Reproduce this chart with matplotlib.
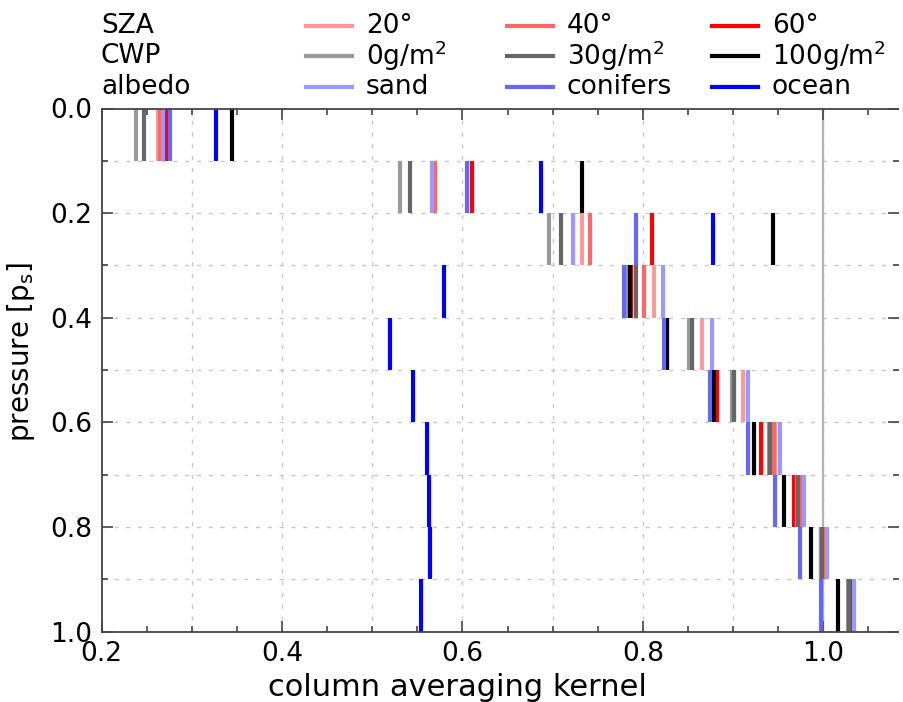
"""
column averaging kernel per pressure layer, for different SZA / CWP / albedo
"""

import numpy as np
import matplotlib
matplotlib.use("Agg")
import matplotlib.pyplot as plt
from matplotlib.lines import Line2D
from matplotlib.ticker import MultipleLocator, FormatStrFormatter

plt.rcParams['font.family'] = ['DejaVu Sans']

# --- Data: pressure layers (fraction of surface pressure) ---
layer_top = [0.0, 0.1, 0.2, 0.3, 0.4, 0.5, 0.6, 0.7, 0.8, 0.9]
layer_bot = [0.1, 0.2, 0.3, 0.4, 0.5, 0.6, 0.7, 0.8, 0.9, 1.0]

# solar zenith angle
sza_20 = [0.2627, 0.568, 0.733, 0.812, 0.866, 0.911, 0.947, 0.976, 1.001, 1.032]
sza_40 = [0.265, 0.570, 0.741, 0.801, 0.854, 0.901, 0.945, 0.974, 1.000, 1.031]
sza_60 = [0.271, 0.610, 0.810, 0.787, 0.827, 0.882, 0.931, 0.968, 0.998, 1.030]
# cloud water path
cwp_0 = [0.238, 0.531, 0.696, 0.783, 0.851, 0.899, 0.940, 0.971, 0.998, 1.027]
cwp_30 = [0.2465, 0.542, 0.709, 0.792, 0.854, 0.901, 0.941, 0.972, 0.999, 1.028]
cwp_100 = [0.344, 0.733, 0.944, 0.786, 0.827, 0.879, 0.923, 0.957, 0.986, 1.016]
# surface albedo
alb_sand = [0.268, 0.566, 0.723, 0.822, 0.877, 0.917, 0.952, 0.979, 1.004, 1.034]
alb_conifers = [0.276, 0.605, 0.792, 0.779, 0.823, 0.874, 0.917, 0.947, 0.974, 0.998]
alb_ocean = [0.3265, 0.687, 0.878, 0.580, 0.520, 0.545, 0.561, 0.563, 0.564, 0.554]

row_names = ["SZA", "CWP", "albedo"]
row_labels = [["20°", "40°", "60°"],
              ["0g/m$^2$", "30g/m$^2$", "100g/m$^2$"],
              ["sand", "conifers", "ocean"]]
row_series = [[sza_20, sza_40, sza_60],
              [cwp_0, cwp_30, cwp_100],
              [alb_sand, alb_conifers, alb_ocean]]
row_colors = [["#ff9999", "#ff6666", "#ff0000"],
              ["#999999", "#666666", "#000000"],
              ["#9999ff", "#6666ff", "#0000ff"]]

FS = 19

# --- Figure ---
W, H = 904, 702
fig = plt.figure(figsize=(W / 100, H / 100), dpi=100)
ax_l, ax_r, ax_t, ax_b = 101.7, 898.5, 108.5, 631.5
ax = fig.add_axes([ax_l / W, 1 - ax_b / H, (ax_r - ax_l) / W, (ax_b - ax_t) / H])

ax.set_xlim(0.2, 1.0834)
ax.set_ylim(1.0, 0.0)

# grid (dashed, every 0.1) and solid line at 1.0
for gx in np.arange(0.3, 1.05, 0.1):
    ax.axvline(gx, color="#c8c8c8", lw=1.0, dashes=(3, 5.5), zorder=0)
for gy in np.arange(0.1, 0.95, 0.1):
    ax.axhline(gy, color="#c8c8c8", lw=1.0, dashes=(3, 5.5), zorder=0)
ax.axvline(1.0, color="#b4b4b4", lw=1.6, zorder=0.5)

# kernel segments
for series_row, color_row in zip(row_series, row_colors):
    for vals, col in zip(series_row, color_row):
        ax.vlines(vals, layer_top, layer_bot, colors=col, lw=3.0, zorder=2)

# axes styling (IDL look)
ax.xaxis.set_major_locator(MultipleLocator(0.2))
ax.xaxis.set_minor_locator(MultipleLocator(0.05))
ax.yaxis.set_major_locator(MultipleLocator(0.2))
ax.yaxis.set_minor_locator(MultipleLocator(0.1))
ax.xaxis.set_major_formatter(FormatStrFormatter("%.1f"))
ax.yaxis.set_major_formatter(FormatStrFormatter("%.1f"))
ax.tick_params(which="both", direction="in", top=True, right=True,
               color="#444444", labelsize=FS, pad=7)
ax.tick_params(which="major", length=8, width=1.2)
ax.tick_params(which="minor", length=4, width=1.2)
for side in ["left", "bottom", "top"]:
    ax.spines[side].set_color("#444444")
    ax.spines[side].set_linewidth(1.3)
ax.spines["right"].set_visible(False)

ax.set_xlabel("column averaging kernel", fontsize=22)
ax.xaxis.set_label_coords(0.447, -0.080)
ax.set_ylabel("pressure [p$_\\mathrm{s}$]", fontsize=20)
ax.yaxis.set_label_coords(-0.081, 0.534)

# --- legend block at the top ---
row_y = [26, 56, 86.5]
line_x0 = [306, 507, 712]
for r in range(3):
    y = 1 - row_y[r] / H
    fig.text(101 / W, y, row_names[r], fontsize=FS, va="center", ha="left")
    for c in range(3):
        x0 = line_x0[c]
        fig.add_artist(Line2D([x0 / W, (x0 + 46) / W], [y, y],
                              transform=fig.transFigure,
                              color=row_colors[r][c], lw=3.0))
        fig.text((x0 + 60) / W, y, row_labels[r][c], fontsize=FS,
                 va="center", ha="left")

fig.savefig("out.png", dpi=100)
